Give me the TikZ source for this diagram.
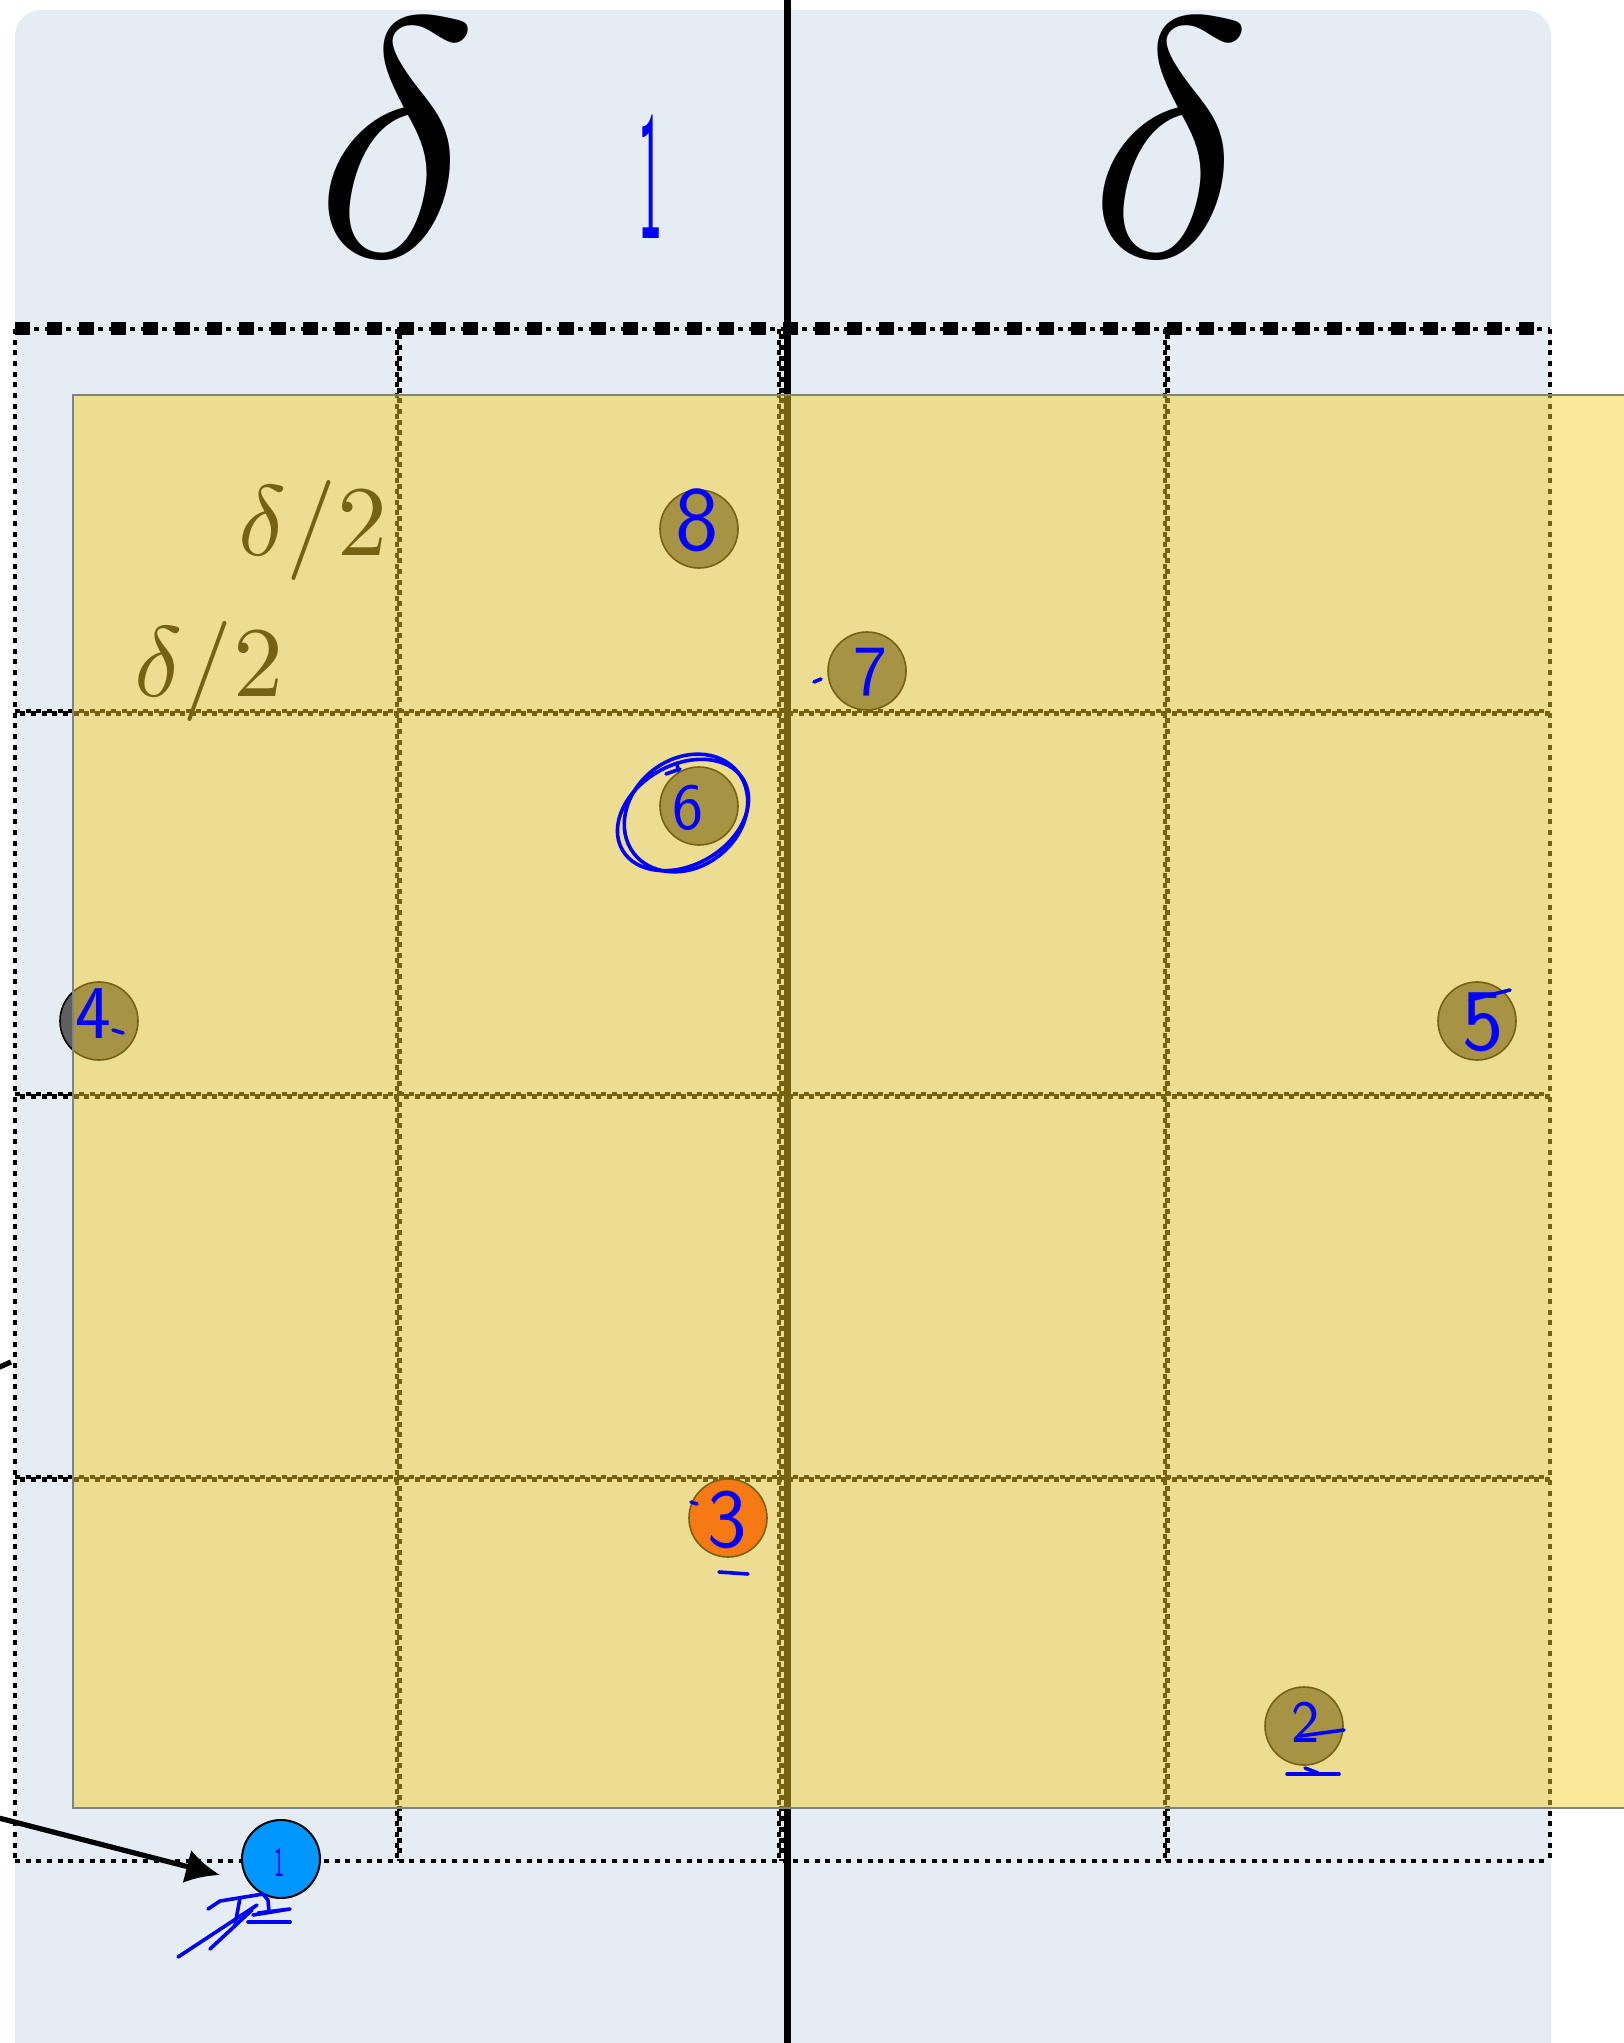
\documentclass[tikz,border=0pt]{standalone}
\usetikzlibrary{arrows.meta}
\definecolor{bgc}{RGB}{229,236,243}
\definecolor{ylw}{RGB}{245,205,38}
\definecolor{gryc}{RGB}{95,95,95}
\definecolor{orc}{RGB}{250,45,5}
\definecolor{bluec}{RGB}{0,150,255}
\definecolor{ink}{RGB}{0,0,255}
\definecolor{edgegray}{RGB}{128,130,133}
\begin{document}
\begin{tikzpicture}[x=0.5pt,y=-0.5pt,
  gridl/.style={line width=2.4pt, dash pattern=on 2.5pt off 2.83pt},
  heavyl/.style={line width=6.5pt, dash pattern=on 7.5pt off 8.5pt},
  dotc/.style={circle, draw=black, line width=0.8pt, inner sep=0pt, minimum size=39pt, fill=gryc},
  handnum/.style={text=ink, inner sep=0pt},
  inkline/.style={draw=ink, line width=1.8pt, line cap=round, line join=round},
  halflbl/.style={anchor=base, inner sep=0pt, scale=5},
  biglbl/.style={anchor=base, inner sep=0pt, scale=17}]
\useasboundingbox (0,0) rectangle (1623,2043);
% background panel
\fill[bgc, rounded corners=13pt] (15,10) rectangle (1551,2120);
% grid
\foreach \x in {15,1550} \draw[gridl] (\x,329) -- (\x,1861);
\draw[gridl] (15,1861) -- (1550,1861);
\foreach \x in {397,779,1165} {
  \draw[gridl] (\x,329) -- (\x,1861);
  \draw[gridl, dash phase=2.6pt] (\x+2.5,329) -- (\x+2.5,1861);
}
\foreach \y in {711,1094,1477} {
  \draw[gridl] (15,\y) -- (1550,\y);
  \draw[gridl, dash phase=2.6pt] (15,\y+2.5) -- (1550,\y+2.5);
}
\draw[heavyl] (15,329) -- (1550,329);
\draw[gridl, dash phase=1pt] (15,329) -- (1550,329);
% thick divider
\coordinate (vt) at (787,-10);
\coordinate (vb) at (787,2060);
\draw[line width=3.5pt] (vt) -- (vb);
% points under the overlay
\node[dotc] (c8) at (699,529) {};
\node[dotc] (c7) at (867,671) {};
\node[dotc] (c6) at (699,806) {};
\node[dotc] (c4) at (99,1021) {};
\node[dotc] (c5) at (1477,1021) {};
\node[dotc, fill=orc] (c3) at (728,1518) {};
\node[dotc] (c2) at (1304,1726) {};
% half labels
\node[halflbl] (h1) at (313,555) {$\delta/2$};
\node[halflbl] (h2) at (209,696) {$\delta/2$};
% yellow overlay
\draw[draw=edgegray, line width=1pt, fill=ylw, fill opacity=0.48] (73,395) rectangle (1650,1808);
% big labels
\node[biglbl] (d1) at (396,257) {$\delta\vphantom{(}$};
\node[biglbl] (d2) at (1170,257) {$\delta\vphantom{(}$};
% point 1
\node[dotc, fill=bluec, line width=1pt] (c1) at (281,1859) {};
% arrows from outside
\coordinate (as) at (-5,1817);
\coordinate (ae) at (220,1875);
\draw[line width=2.6pt, -{Latex[length=17pt,width=17pt]}] (as) -- (ae);
\coordinate (ms) at (-5,1369);
\coordinate (me) at (11,1362);
\draw[line width=2.6pt] (ms) -- (me);
% handwritten numbers
\node[handnum, xscale=0.28, font=\sffamily\fontsize{92}{92}\selectfont] (n0) at (651,177) {1};
\node[handnum, xscale=0.5, font=\sffamily\fontsize{21}{21}\selectfont] (n1) at (279,1862) {1};
\node[handnum, font=\sffamily\fontsize{30}{30}\selectfont] (n2) at (1306,1722) {2};
\node[handnum, font=\sffamily\fontsize{42}{42}\selectfont] (n3) at (727,1520) {3};
\node[handnum, font=\sffamily\fontsize{38}{38}\selectfont] (n4) at (93,1014) {4};
\node[handnum, font=\sffamily\fontsize{44}{44}\selectfont] (n5) at (1483,1022) {5};
\node[handnum, font=\sffamily\fontsize{33}{33}\selectfont] (n6) at (688,808) {6};
\node[handnum, font=\sffamily\fontsize{36}{36}\selectfont] (n7) at (870,672) {7};
\node[handnum, font=\sffamily\fontsize{46}{46}\selectfont] (n8) at (697,520) {8};
% handwritten marks
\draw[inkline, rotate around={30:(683,815)}] (683,815) ellipse [x radius=35pt, y radius=25pt];
\draw[inkline, rotate around={38:(686,813)}] (686,813) ellipse [x radius=33pt, y radius=27pt];
\draw[inkline] (666,774) -- (680,769);
\draw[inkline] (677,763) -- (678,771);
\draw[inkline] (113,1030) -- (123,1033);
\draw[inkline] (814,682) -- (821,679);
\draw[inkline] (691,1502) -- (697,1504);
\draw[inkline] (719,1572) -- (748,1574);
\draw[inkline] (1287,1774) -- (1339,1774);
\draw[inkline] (1305,1768) -- (1318,1773);
\draw[inkline] (1300,1736) -- (1344,1730);
\draw[inkline] (1470,1000) -- (1510,990);
\draw[inkline] (208,1909) -- (220,1901) -- (263,1894) -- (268,1900) -- (269,1912);
\draw[inkline] (240,1898) -- (235,1925);
\draw[inkline] (178,1957) -- (257,1905);
\draw[inkline] (210,1949) -- (252,1910);
\draw[inkline] (248,1922) -- (290,1922);
\draw[inkline] (253,1915) -- (290,1909) -- (258,1913);
\end{tikzpicture}
\end{document}
